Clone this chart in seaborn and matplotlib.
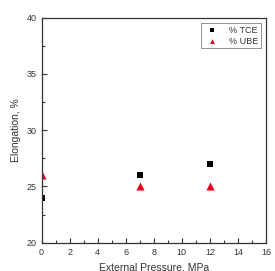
import matplotlib
matplotlib.use('Agg')
import matplotlib.pyplot as plt
import seaborn as sns
import pandas as pd
from matplotlib.ticker import MultipleLocator

pressure = [0, 7, 12]
tce = [24, 26, 27]
ube = [26, 25, 25]

df = pd.DataFrame({'pressure': pressure, 'tce': tce, 'ube': ube})

sns.set_style('white')
plt.rcParams['font.family'] = ['Liberation Sans', 'DejaVu Sans']

fig = plt.figure(figsize=(2.75, 2.71), dpi=100)
ax = fig.add_axes([41.5 / 275, 1 - 242.7 / 271, (266 - 41.5) / 275, (242.7 - 17.7) / 271])

sns.scatterplot(data=df, x='pressure', y='tce', marker='s', color='black',
                s=24, linewidth=0, ax=ax, label='% TCE')
sns.scatterplot(data=df, x='pressure', y='ube', marker='^', color='#e8001c',
                s=34, linewidth=0, ax=ax, label='% UBE')

ax.set_xlim(0, 16)
ax.set_ylim(20, 40)
ax.xaxis.set_major_locator(MultipleLocator(2))
ax.xaxis.set_minor_locator(MultipleLocator(1))
ax.yaxis.set_major_locator(MultipleLocator(5))
ax.yaxis.set_minor_locator(MultipleLocator(2.5))
ax.tick_params(which='both', direction='in', bottom=True, left=True, top=False, right=False,
               labelsize=6.5, colors='#333333', width=0.8)
ax.tick_params(which='major', length=3.5)
ax.tick_params(which='minor', length=2)
for sp in ax.spines.values():
    sp.set_color('#333333')
    sp.set_linewidth(0.9)

ax.set_xlabel('External Pressure, MPa', fontsize=7.5, color='#333333', labelpad=4)
ax.set_ylabel('Elongation, %', fontsize=7.5, color='#333333', labelpad=4)

leg = ax.legend(loc='upper right', fontsize=6.5, frameon=True, fancybox=False,
                edgecolor='#777777', borderpad=0.3, handletextpad=0.8,
                labelspacing=0.2, markerscale=0.6, borderaxespad=0.6)
leg.get_frame().set_linewidth(0.7)
for t in leg.get_texts():
    t.set_color('#333333')

fig.savefig('out.png', dpi=100)
